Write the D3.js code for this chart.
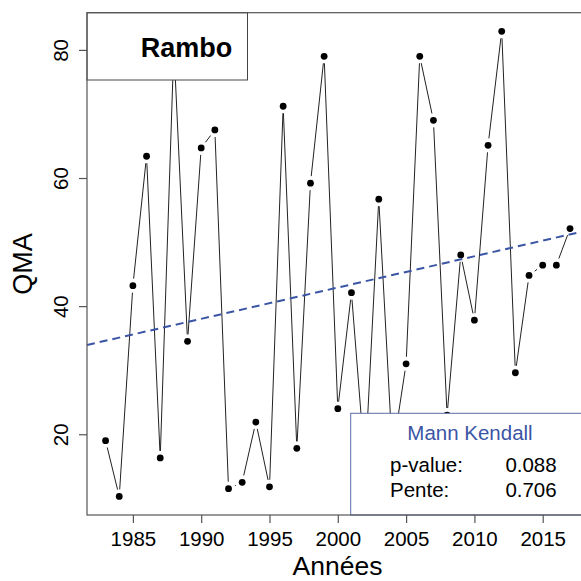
<!DOCTYPE html>
<html>
<head>
<meta charset="utf-8">
<script src="https://cdn.jsdelivr.net/npm/d3@7"></script>
<style>
  body { margin: 0; background: #fff; }
  svg { display: block; font-family: "Liberation Sans", Arial, sans-serif; }
</style>
</head>
<body>
<svg id="chart" width="581" height="581"></svg>
<script>
// annual values (QMA, Rambo station)
const years = d3.range(1983, 2018);
const qma = [19.0, 10.3, 43.2, 63.4, 16.3, 80.5, 34.5, 64.7, 67.5, 11.5,
             12.5, 21.9, 11.8, 71.2, 17.8, 59.2, 79.0, 24.0, 42.1, 15.0,
             56.7, 17.0, 31.0, 79.0, 69.0, 23.0, 48.0, 37.8, 65.1, 82.9,
             29.6, 44.8, 46.4, 46.4, 52.1];
const xTicks = [1985, 1990, 1995, 2000, 2005, 2010, 2015];
const yTicks = [20, 40, 60, 80];
// dashed trend drawn on the plot (value at first and last year)
const trendYears = [1983, 2017];
const trendVals = [34.6, 51.2];
const stationName = "Rambo";
const mkTitle = "Mann Kendall";
const mkLabels = ["p-value:", "Pente:"];
const mkValues = ["0.088", "0.706"];

const svg = d3.select("#chart");
const pLeft = 87, pTop = 12.7, pRight = 588.6, pBottom = 515;
const blue = "#3b55a5";

// R style 4% padding on both axes
const xr = d3.extent(years), yr = d3.extent(qma);
const xPad = (xr[1] - xr[0]) * 0.04, yPad = (yr[1] - yr[0]) * 0.04;
const x = d3.scaleLinear().domain([xr[0] - xPad, xr[1] + xPad]).range([pLeft, pRight]);
const y = d3.scaleLinear().domain([yr[0] - yPad, yr[1] + yPad]).range([pBottom, pTop]);

const pts = years.map((yy, i) => [x(yy), y(qma[i])]);

// type = "b": segments cut short near each point
const gap = 7;
const segs = [];
for (let i = 0; i < pts.length - 1; i++) {
  const [x0, y0] = pts[i], [x1, y1] = pts[i + 1];
  const len = Math.hypot(x1 - x0, y1 - y0);
  if (len <= 2 * gap) continue;
  const ux = (x1 - x0) / len, uy = (y1 - y0) / len;
  segs.push([x0 + ux * gap, y0 + uy * gap, x1 - ux * gap, y1 - uy * gap]);
}
svg.append("g").selectAll("line")
   .data(segs)
   .enter()
   .append("line")
   .attr("x1", d => d[0]).attr("y1", d => d[1])
   .attr("x2", d => d[2]).attr("y2", d => d[3])
   .attr("stroke", "#222")
   .attr("stroke-width", 1);

svg.append("g").selectAll("circle")
   .data(pts)
   .enter()
   .append("circle")
   .attr("cx", d => d[0])
   .attr("cy", d => d[1])
   .attr("r", 3.4)
   .attr("fill", "#000");

// trend line across the whole plot region
const slope = (trendVals[1] - trendVals[0]) / (trendYears[1] - trendYears[0]);
const trendAt = t => trendVals[0] + slope * (t - trendYears[0]);
const xd = x.domain();
svg.append("line")
   .attr("x1", x(xd[0])).attr("y1", y(trendAt(xd[0])))
   .attr("x2", x(xd[1])).attr("y2", y(trendAt(xd[1])))
   .attr("stroke", blue)
   .attr("stroke-width", 2)
   .attr("stroke-dasharray", "8,5");

// legend box top left
svg.append("rect")
   .attr("x", pLeft).attr("y", pTop)
   .attr("width", 160.5).attr("height", 67.3)
   .attr("fill", "#fff")
   .attr("stroke", "#444").attr("stroke-width", 1);
svg.append("text")
   .attr("x", 186.5).attr("y", 56.5)
   .attr("text-anchor", "middle")
   .attr("font-size", 27).attr("font-weight", "bold")
   .text(stationName);

// Mann Kendall box bottom right
svg.append("rect")
   .attr("x", 350.7).attr("y", 413.3)
   .attr("width", pRight - 350.7).attr("height", pBottom - 413.3)
   .attr("fill", "#fff")
   .attr("stroke", "#5a6eae").attr("stroke-width", 1);
svg.append("text")
   .attr("x", 470).attr("y", 439.5)
   .attr("text-anchor", "middle")
   .attr("font-size", 20.5)
   .attr("fill", blue)
   .text(mkTitle);
mkLabels.forEach((lab, i) => {
  svg.append("text")
     .attr("x", 390).attr("y", 471.5 + 25 * i)
     .attr("font-size", 20.5)
     .text(lab);
  svg.append("text")
     .attr("x", 556.7).attr("y", 471.5 + 25 * i)
     .attr("text-anchor", "end")
     .attr("font-size", 20.5)
     .text(mkValues[i]);
});

// frame
svg.append("rect")
   .attr("x", pLeft).attr("y", pTop)
   .attr("width", pRight - pLeft).attr("height", pBottom - pTop)
   .attr("fill", "none")
   .attr("stroke", "#555").attr("stroke-width", 1.2);

// axes
const xAxis = svg.append("g")
   .attr("transform", `translate(0,${pBottom})`)
   .call(d3.axisBottom(x).tickValues(xTicks).tickFormat(d3.format("d")).tickSize(8).tickPadding(8));
xAxis.select(".domain").remove();
xAxis.selectAll("line").attr("stroke", "#555").attr("stroke-width", 1.2);
xAxis.selectAll("text").attr("font-size", 20.5).attr("fill", "#000")
     .attr("font-family", "Liberation Sans, Arial, sans-serif");

const yAxis = svg.append("g")
   .attr("transform", `translate(${pLeft},0)`)
   .call(d3.axisLeft(y).tickValues(yTicks).tickSize(8));
yAxis.select(".domain").remove();
yAxis.selectAll("line").attr("stroke", "#555").attr("stroke-width", 1.2);
yAxis.selectAll("text").remove();
yAxis.selectAll(".tick").append("text")
     .attr("transform", "translate(-19.5,0) rotate(-90)")
     .attr("text-anchor", "middle")
     .attr("font-size", 20.5)
     .attr("fill", "#000")
     .attr("font-family", "Liberation Sans, Arial, sans-serif")
     .text(d => d);

// axis titles
svg.append("text")
   .attr("x", 337.5).attr("y", 575)
   .attr("text-anchor", "middle")
   .attr("font-size", 26.5)
   .text("Années");
svg.append("text")
   .attr("transform", `translate(32,264) rotate(-90)`)
   .attr("text-anchor", "middle")
   .attr("font-size", 27)
   .text("QMA");
</script>
</body>
</html>
